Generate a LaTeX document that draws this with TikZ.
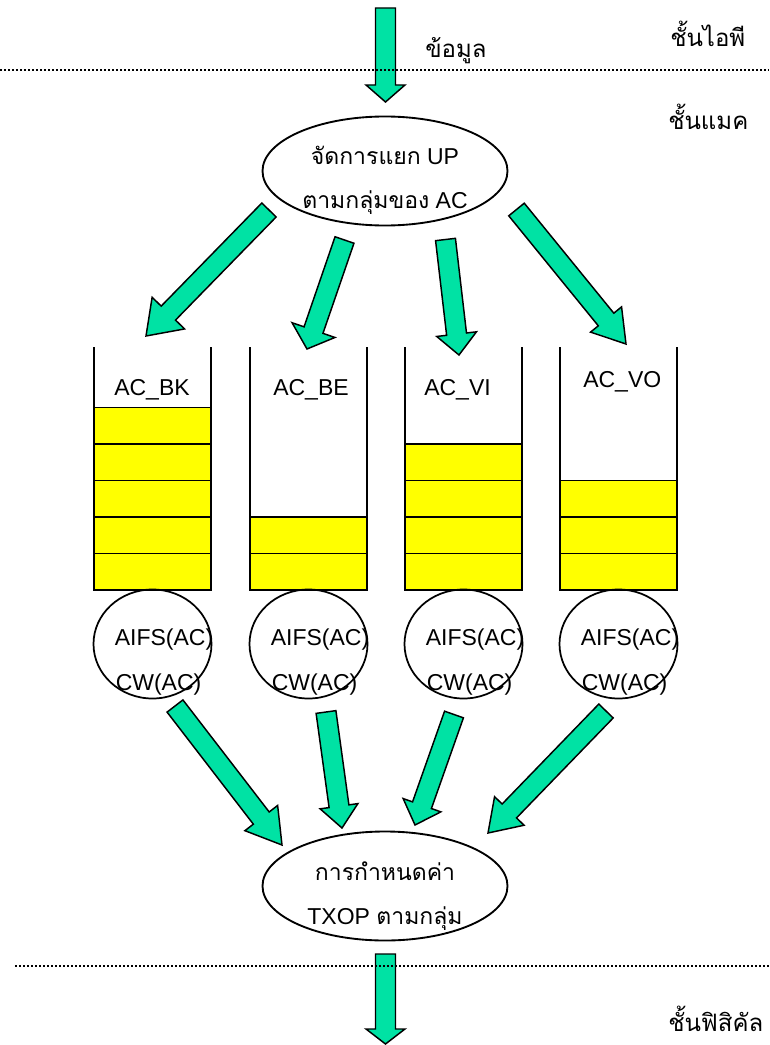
\documentclass[tikz,border=0pt]{standalone}
\usepackage{fontspec}
\setmainfont{Liberation Sans}
\newfontfamily\thaifont[Script=Thai]{Loma}
\usetikzlibrary{shapes.geometric,calc}
\definecolor{arrowgreen}{RGB}{0,226,164}
\definecolor{cellyellow}{RGB}{255,255,0}
%% fat block arrow: tail, tip, head length, half head width
\newcommand{\fatarrow}[4]{%
  \coordinate (hb) at ($(#2)!#3!(#1)$);
  \filldraw[arrowdecorate] ($(#1)!7.5pt!90:(#2)$) -- ($(hb)!7.5pt!-90:(#1)$)
    -- ($(hb)!#4!-90:(#1)$) -- (#2) -- ($(hb)!#4!90:(#1)$)
    -- ($(hb)!7.5pt!90:(#1)$) -- ($(#1)!7.5pt!-90:(#2)$) -- cycle;}
\begin{document}
\begin{tikzpicture}
        [x=0.75pt,y=-0.75pt,
        ovaldecorate/.style={shape=ellipse,draw,line width=1.4pt,minimum width=183.75pt,minimum height=81.75pt,inner sep=0pt},
        rounddecorate/.style={shape=ellipse,draw,line width=1.3pt,minimum width=88.5pt,minimum height=81.75pt,inner sep=0pt},
        textdecorate/.style={inner sep=0pt,font=\fontsize{17.25}{20}\selectfont},
        layerdecorate/.style={inner sep=0pt,anchor=base west,font=\thaifont\fontsize{18}{20}\selectfont},
        celldecorate/.style={fill=cellyellow,draw,line width=1.4pt},
        queuedecorate/.style={draw,line width=1.5pt},
        arrowdecorate/.style={fill=arrowgreen,draw,line width=1.1pt,line join=miter},
        layerline/.style={line width=1.3pt,dash pattern=on 1.2pt off 1.8pt}]
        \useasboundingbox (0,0) rectangle (769,1045);
        %% ovals
        \node (split) at (385,171) [ovaldecorate] {};
        \node (txop) at (385,886) [ovaldecorate] {};
        \node (split1) [textdecorate,anchor=base] at ($(split)+(0,-6)$) {{\thaifont จัดการแยก} UP};
        \node (split2) [textdecorate,anchor=base] at ($(split)+(0,37)$) {{\thaifont ตามกลุ่มของ} AC};
        \node (txop1) [textdecorate,anchor=base] at ($(txop)+(0,-6)$) {\thaifont การกำหนดค่า};
        \node (txop2) [textdecorate,anchor=base] at ($(txop)+(0,38)$) {TXOP {\thaifont ตามกลุ่ม}};
        %% queues, labels and circles
        \foreach \name/\x/\n/\lx/\ly/\txt in {bk/94/5/114/395/AC\_BK, be/250/2/273/395/AC\_BE,
          vi/405/4/424/395/AC\_VI, vo/560/3/583/387/AC\_VO}
        {
          \foreach \k in {1,...,\n}
            \draw[celldecorate] (\x,590-36.5*\k) rectangle (\x+117,590-36.5*\k+36.5);
          \draw[queuedecorate] (\x,347) -- (\x,590) -- (\x+117,590) -- (\x+117,347);
          \node (l\name) [textdecorate,anchor=base west] at (\lx,\ly) {\txt};
          \node (c\name) at (\x+58.5,644) [rounddecorate] {};
          \node (a\name) [textdecorate,anchor=base west] at ($(c\name)+(-38,1)$) {AIFS(AC)};
          \node (w\name) [textdecorate,anchor=base west] at ($(c\name)+(-37,46)$) {CW(AC)};
        }
        %% layer names
        \node (data) [layerdecorate] at (425,58) {ข้อมูล};
        \node (ip) [layerdecorate] at (670,47) {ชั้นไอพี};
        \node (mac) [layerdecorate] at (668,130) {ชั้นแมค};
        \node (phy) [layerdecorate] at (668,1031) {ชั้นฟิสิคัล};
        %% arrows
        \foreach \tx/\ty/\hx/\hy/\hl/\hw in {385.5/8/385.5/102/12.75pt/14.6pt,
          269/210/146/336/24pt/17pt, 344.5/240/307/349/15pt/17pt,
          445.5/239.5/459/355/15.75pt/15pt, 516.5/209.5/626/344/23.7pt/15pt,
          175/706/282/845/25.5pt/15.5pt, 326/712/342/828/16.5pt/14.3pt,
          454/714.5/415/825/15.75pt/15pt, 606/711/488/833/23pt/15.4pt,
          385.5/954/385.5/1044/11.25pt/14.6pt}
        {
          \coordinate (from) at (\tx,\ty);
          \coordinate (to) at (\hx,\hy);
          \fatarrow{from}{to}{\hl}{\hw}
        }
        %% layer borders
        \draw[layerline] (0,70) -- (769,70);
        \draw[layerline] (15,966) -- (769,966);
      \end{tikzpicture}
\end{document}
